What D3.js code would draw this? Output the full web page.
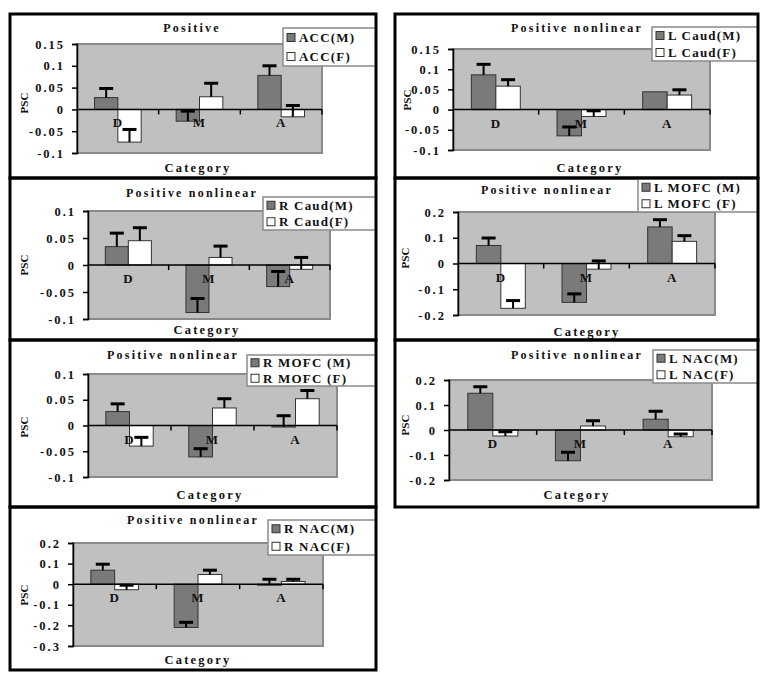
<!DOCTYPE html>
<html>
  <head>
    <script src="https://d3js.org/d3.v7.min.js"></script>
    <style>
      body { margin: 0; background: #fff; }
      text { font-family: "Liberation Serif", "Times New Roman", serif; font-weight: bold; fill: #111; }
    </style>
  </head>
  <body>
    <script>

    // data
    const categories = ["D", "M", "A"];
    const titles = ["Positive", "Positive nonlinear", "Positive nonlinear", "Positive nonlinear",
                    "Positive nonlinear", "Positive nonlinear", "Positive nonlinear"];
    const seriesNames = [
      ["ACC(M)", "ACC(F)"],
      ["L Caud(M)", "L Caud(F)"],
      ["R Caud(M)", "R Caud(F)"],
      ["L MOFC (M)", "L MOFC (F)"],
      ["R MOFC (M)", "R MOFC (F)"],
      ["L NAC(M)", "L NAC(F)"],
      ["R NAC(M)", "R NAC(F)"]
    ];
    const maleValues = [
      [0.027, -0.027, 0.078],
      [0.086, -0.065, 0.044],
      [0.034, -0.088, -0.040],
      [0.070, -0.151, 0.142],
      [0.027, -0.061, -0.003],
      [0.147, -0.123, 0.043],
      [0.068, -0.210, -0.005]
    ];
    const maleErrors = [
      [0.021, 0.023, 0.022],
      [0.026, 0.022, 0.0],
      [0.025, 0.026, 0.028],
      [0.029, 0.033, 0.028],
      [0.015, 0.016, 0.022],
      [0.026, 0.034, 0.032],
      [0.029, 0.025, 0.029]
    ];
    const femaleValues = [
      [-0.075, 0.029, -0.017],
      [0.058, -0.017, 0.036],
      [0.045, 0.014, -0.008],
      [-0.174, -0.022, 0.086],
      [-0.040, 0.034, 0.052],
      [-0.024, 0.016, -0.027],
      [-0.027, 0.047, 0.013]
    ];
    const femaleErrors = [
      [0.029, 0.031, 0.026],
      [0.016, 0.014, 0.013],
      [0.024, 0.021, 0.022],
      [0.030, 0.032, 0.022],
      [0.017, 0.018, 0.016],
      [0.017, 0.021, 0.011],
      [0.022, 0.021, 0.011]
    ];
    const yTicks = [
      [0.15, 0.1, 0.05, 0, -0.05, -0.1],
      [0.15, 0.1, 0.05, 0, -0.05, -0.1],
      [0.1, 0.05, 0, -0.05, -0.1],
      [0.2, 0.1, 0, -0.1, -0.2],
      [0.1, 0.05, 0, -0.05, -0.1],
      [0.2, 0.1, 0, -0.1, -0.2],
      [0.2, 0.1, 0, -0.1, -0.2, -0.3]
    ];

    // where each panel sits on the page
    const layout = [
      { box: [10, 14, 376, 178],  plot: [77, 44, 322, 153],  title: [192, 28],  legend: [283, 28, 376, 66],  cat: [198, 168], psc: [24, 103] },
      { box: [395, 14, 758, 178], plot: [453, 49, 710, 150], title: [577, 28],  legend: [652, 27, 758, 61],  cat: [590, 168], psc: [407, 100] },
      { box: [10, 178, 376, 340], plot: [88, 211, 330, 319], title: [192, 193], legend: [263, 197, 376, 230], cat: [207, 330], psc: [24, 265] },
      { box: [395, 178, 758, 340], plot: [458, 212, 715, 315], title: [547, 190], legend: [638, 179, 758, 212], cat: [587, 332], psc: [405, 258] },
      { box: [10, 340, 376, 507], plot: [88, 374, 337, 477], title: [173, 355], legend: [247, 355, 376, 386], cat: [210, 495], psc: [24, 427] },
      { box: [395, 340, 758, 507], plot: [449, 380, 712, 480], title: [577, 355], legend: [653, 350, 758, 383], cat: [577, 495], psc: [405, 425] },
      { box: [10, 507, 376, 670], plot: [73, 543, 323, 646], title: [193, 520], legend: [268, 520, 376, 555], cat: [198, 660], psc: [24, 595] }
    ];

    const width = 768, height = 680;
    const fills = ["#7a7a7a", "#ffffff"];

    const svg = d3.select("body").append("svg")
        .attr("width", width)
        .attr("height", height);

    layout.forEach((L, i) => {
      const g = svg.append("g");
      const [px0, py0, px1, py1] = L.plot;
      const ticks = yTicks[i];

      const x0 = d3.scaleBand().domain(categories).range([px0, px1]);
      const x1 = d3.scaleBand().domain([0, 1]).range([0, x0.bandwidth()]).paddingOuter(0.75).paddingInner(0);
      const y = d3.scaleLinear().domain([d3.min(ticks), d3.max(ticks)]).range([py1, py0]);

      // plot area
      g.append("rect")
        .attr("x", px0).attr("y", py0)
        .attr("width", px1 - px0).attr("height", py1 - py0)
        .attr("fill", "#c0c0c0")
        .attr("stroke", "#8a8a8a")
        .attr("stroke-width", 2);

      // bars
      const rows = categories.map((c, j) => [
        { c, s: 0, v: maleValues[i][j], e: maleErrors[i][j] },
        { c, s: 1, v: femaleValues[i][j], e: femaleErrors[i][j] }
      ]).flat();

      g.selectAll("rect.bar")
        .data(rows)
        .join("rect")
          .attr("class", "bar")
          .attr("x", d => x0(d.c) + x1(d.s))
          .attr("width", x1.bandwidth())
          .attr("y", d => y(Math.max(0, d.v)))
          .attr("height", d => Math.abs(y(d.v) - y(0)))
          .attr("fill", d => fills[d.s])
          .attr("stroke", "#333")
          .attr("stroke-width", 1);

      // zero line with category ticks
      g.append("line")
        .attr("x1", px0).attr("x2", px1)
        .attr("y1", y(0)).attr("y2", y(0))
        .attr("stroke", "#000").attr("stroke-width", 1.5);
      g.selectAll("line.ctick")
        .data(categories.map(c => x0(c) + x0.bandwidth()))
        .join("line")
          .attr("class", "ctick")
          .attr("x1", d => d).attr("x2", d => d)
          .attr("y1", y(0)).attr("y2", y(0) + 5)
          .attr("stroke", "#000").attr("stroke-width", 1.5);

      // error bars (plus direction)
      const err = g.selectAll("g.err")
        .data(rows.filter(d => d.e > 0))
        .join("g")
          .attr("class", "err");
      err.append("line")
        .attr("x1", d => x0(d.c) + x1(d.s) + x1.bandwidth() / 2)
        .attr("x2", d => x0(d.c) + x1(d.s) + x1.bandwidth() / 2)
        .attr("y1", d => y(d.v))
        .attr("y2", d => y(d.v + d.e))
        .attr("stroke", "#000").attr("stroke-width", 2);
      err.append("line")
        .attr("x1", d => x0(d.c) + x1(d.s) + x1.bandwidth() / 2 - 7)
        .attr("x2", d => x0(d.c) + x1(d.s) + x1.bandwidth() / 2 + 7)
        .attr("y1", d => y(d.v + d.e))
        .attr("y2", d => y(d.v + d.e))
        .attr("stroke", "#000").attr("stroke-width", 3);

      // category labels under the zero line
      g.selectAll("text.cat")
        .data(categories)
        .join("text")
          .attr("class", "cat")
          .attr("x", c => x0(c) + x0.bandwidth() / 2)
          .attr("y", y(0) + 18)
          .attr("text-anchor", "middle")
          .attr("font-size", 13)
          .attr("letter-spacing", 1)
          .text(c => c);

      // y axis
      const yAxis = g.append("g")
        .attr("transform", `translate(${px0},0)`)
        .call(d3.axisLeft(y).tickValues(ticks).tickFormat(d => String(d)).tickSize(5).tickPadding(7));
      yAxis.select(".domain").attr("stroke", "#000").attr("stroke-width", 1.5);
      yAxis.selectAll(".tick line").attr("stroke", "#000").attr("stroke-width", 1.5);
      yAxis.selectAll(".tick text")
        .attr("font-family", null)
        .attr("font-size", 12.5)
        .attr("letter-spacing", 2)
        .attr("fill", "#111");

      // texts
      g.append("text")
        .attr("x", L.title[0]).attr("y", L.title[1])
        .attr("dy", "0.35em")
        .attr("text-anchor", "middle")
        .attr("font-size", 12)
        .attr("letter-spacing", 2.2)
        .text(titles[i]);
      g.append("text")
        .attr("x", L.cat[0]).attr("y", L.cat[1])
        .attr("dy", "0.35em")
        .attr("text-anchor", "middle")
        .attr("font-size", 12.5)
        .attr("letter-spacing", 2.2)
        .text("Category");
      g.append("text")
        .attr("transform", `translate(${L.psc[0]},${L.psc[1]}) rotate(-90)`)
        .attr("dy", "0.35em")
        .attr("text-anchor", "middle")
        .attr("font-size", 11)
        .text("PSC");

      // legend
      const [lx0, ly0, lx1, ly1] = L.legend;
      g.append("rect")
        .attr("x", lx0).attr("y", ly0)
        .attr("width", lx1 - lx0).attr("height", ly1 - ly0)
        .attr("fill", "#fff")
        .attr("stroke", "#8a8a8a").attr("stroke-width", 1.5);
      const rowH = (ly1 - ly0) / 2;
      const item = g.selectAll("g.leg")
        .data(seriesNames[i])
        .join("g")
          .attr("class", "leg")
          .attr("transform", (d, k) => `translate(${lx0 + 4},${ly0 + rowH * (k + 0.5)})`);
      item.append("rect")
        .attr("x", 0).attr("y", -4)
        .attr("width", 8).attr("height", 8)
        .attr("fill", (d, k) => fills[k])
        .attr("stroke", "#333").attr("stroke-width", 1);
      item.append("text")
        .attr("x", 12)
        .attr("dy", "0.35em")
        .attr("font-size", 13)
        .attr("letter-spacing", 1.2)
        .text(d => d);

      // panel frame
      const [bx0, by0, bx1, by1] = L.box;
      g.append("rect")
        .attr("x", bx0).attr("y", by0)
        .attr("width", bx1 - bx0).attr("height", by1 - by0)
        .attr("fill", "none")
        .attr("stroke", "#000").attr("stroke-width", 3);
    });

    </script>
  </body>
</html>
